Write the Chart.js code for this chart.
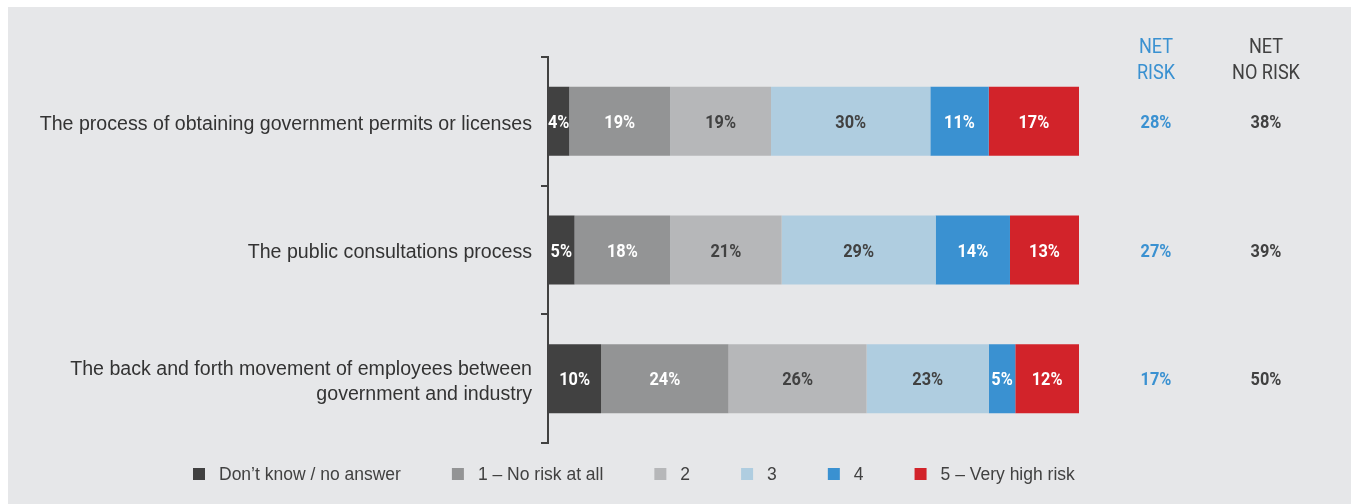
<!DOCTYPE html>
<html>
<head>
<meta charset="utf-8">
<script src="https://cdn.jsdelivr.net/npm/chart.js@4.4.1/dist/chart.umd.min.js"></script>
<style>
  body { margin: 0; background: #ffffff; }
  #panel { position: absolute; left: 8px; top: 7px; width: 1343px; height: 497px; background: #e6e7e9; }
</style>
</head>
<body>
<div id="panel"><canvas id="grafico" width="1343" height="497"></canvas></div>
<script>
// categorias y valores
const categorias = [
  'The process of obtaining government permits or licenses',
  'The public consultations process',
  ['The back and forth movement of employees between', 'government and industry']
];
const series = ['Don\u2019t know / no answer', '1 \u2013 No risk at all', '2', '3', '4', '5 \u2013 Very high risk'];
const noSabe = [4, 5, 10];
const riesgo1 = [19, 18, 24];
const riesgo2 = [19, 21, 26];
const riesgo3 = [30, 29, 23];
const riesgo4 = [11, 14, 5];
const riesgo5 = [17, 13, 12];
const netRisk = [28, 27, 17];
const netNoRisk = [38, 39, 50];

const colores = ['#414141', '#939495', '#b6b7b9', '#afcde0', '#3a91d1', '#d2232a'];
const coloresTexto = ['#ffffff', '#ffffff', '#414141', '#414141', '#ffffff', '#ffffff'];
const fuenteNum = "'Roboto', sans-serif";
const fuenteTxt = "'Liberation Sans', 'Roboto', sans-serif";

const valores = [noSabe, riesgo1, riesgo2, riesgo3, riesgo4, riesgo5];

// texto "condensado" (escala horizontal)
function textoAngosto(ctx, txt, x, y) {
  ctx.save();
  ctx.translate(x, y);
  ctx.scale(0.86, 1);
  ctx.fillText(txt, 0, 0);
  ctx.restore();
}

// etiquetas dentro de las barras + columnas NET + leyenda
const extras = {
  id: 'extras',
  afterDatasetsDraw(chart) {
    const ctx = chart.ctx;
    ctx.save();
    ctx.textBaseline = 'middle';
    ctx.textAlign = 'center';
    ctx.font = 'bold 19px ' + fuenteNum;
    chart.data.datasets.forEach((ds, i) => {
      const meta = chart.getDatasetMeta(i);
      meta.data.forEach((bar, j) => {
        const cx = (bar.x + bar.base) / 2;
        ctx.fillStyle = coloresTexto[i];
        textoAngosto(ctx, ds.data[j] + '%', cx, bar.y + 2);
      });
    });

    // columnas NET
    const y = chart.scales.y;
    const xRisk = 1148, xNo = 1258;
    ctx.font = '21px ' + fuenteNum;
    ctx.fillStyle = '#3a91d1';
    textoAngosto(ctx, 'NET', xRisk, 41);
    textoAngosto(ctx, 'RISK', xRisk, 67);
    ctx.fillStyle = '#414141';
    textoAngosto(ctx, 'NET', xNo, 41);
    textoAngosto(ctx, 'NO RISK', xNo, 67);
    ctx.font = 'bold 19px ' + fuenteNum;
    categorias.forEach((c, j) => {
      const py = y.getPixelForValue(j) + 2;
      ctx.fillStyle = '#3a91d1';
      textoAngosto(ctx, netRisk[j] + '%', xRisk, py);
      ctx.fillStyle = '#414141';
      textoAngosto(ctx, netNoRisk[j] + '%', xNo, py);
    });

    // leyenda
    ctx.font = '17.5px ' + fuenteTxt;
    ctx.textAlign = 'left';
    let lx = 185;
    const ly = 467;
    series.forEach((s, i) => {
      ctx.fillStyle = colores[i];
      ctx.fillRect(lx, ly - 6, 12, 12);
      ctx.fillStyle = '#414141';
      ctx.fillText(s, lx + 26, ly + 1);
      lx += 26 + ctx.measureText(s).width + 51;
    });
    ctx.restore();
  }
};

const ctx = document.getElementById('grafico').getContext('2d');
new Chart(ctx, {
  type: 'bar',
  data: {
    labels: categorias,
    datasets: series.map((s, i) => ({
      label: s,
      data: valores[i],
      backgroundColor: colores[i],
      borderWidth: 0,
      barPercentage: 0.536,
      categoryPercentage: 1
    }))
  },
  options: {
    indexAxis: 'y',
    responsive: false,
    animation: false,
    layout: { padding: { left: 0, right: 272, top: 50, bottom: 61 } },
    plugins: {
      legend: { display: false },
      tooltip: { enabled: false }
    },
    scales: {
      x: { stacked: true, min: 0, max: 100, display: false },
      y: {
        stacked: true,
        afterFit(scale) { scale.width = 540; },
        grid: { drawOnChartArea: false, drawTicks: true, tickLength: 7, color: '#414141', lineWidth: 2, offset: true },
        border: { display: true, color: '#414141', width: 2 },
        ticks: { color: '#333333', font: { family: fuenteTxt, size: 19.6, lineHeight: 1.28 }, padding: 9, labelOffset: 3 }
      }
    }
  },
  plugins: [extras]
});
</script>
</body>
</html>
